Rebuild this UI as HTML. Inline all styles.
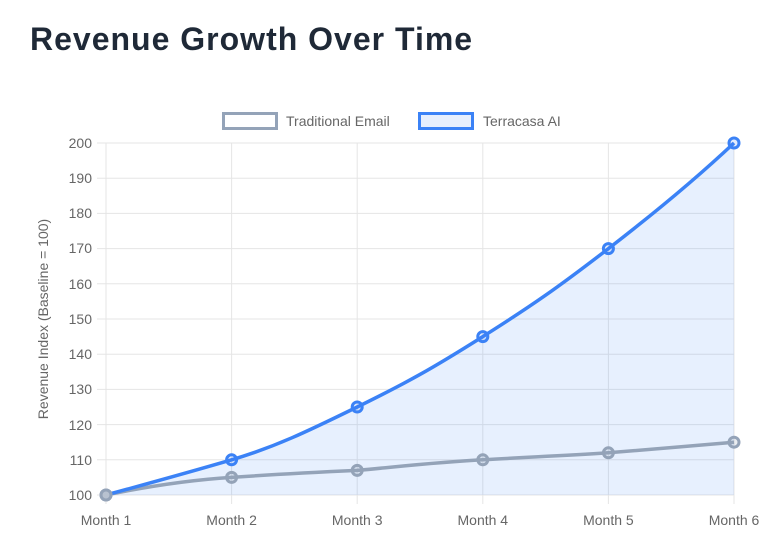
<!DOCTYPE html>
<html><head><style>
body{margin:0;background:#fff;width:771px;height:546px;overflow:hidden}
h1{position:absolute;left:30px;top:21px;margin:0;font:bold 32px "Liberation Sans",sans-serif;color:#1f2937;letter-spacing:1px}
svg{position:absolute;left:0;top:0}
text{font-family:"Liberation Sans",sans-serif;fill:#666;font-size:14px}
</style></head><body>
<h1>Revenue Growth Over Time</h1>
<svg width="771" height="546">
<g stroke="#e5e5e5" stroke-width="1">
<line x1="97" x2="734" y1="143" y2="143"/><line x1="97" x2="734" y1="178.2" y2="178.2"/><line x1="97" x2="734" y1="213.4" y2="213.4"/><line x1="97" x2="734" y1="248.6" y2="248.6"/><line x1="97" x2="734" y1="283.8" y2="283.8"/><line x1="97" x2="734" y1="319" y2="319"/><line x1="97" x2="734" y1="354.2" y2="354.2"/><line x1="97" x2="734" y1="389.4" y2="389.4"/><line x1="97" x2="734" y1="424.6" y2="424.6"/><line x1="97" x2="734" y1="459.8" y2="459.8"/><line x1="97" x2="734" y1="495" y2="495"/>
<line x1="106" x2="106" y1="143" y2="504"/><line x1="231.6" x2="231.6" y1="143" y2="504"/><line x1="357.2" x2="357.2" y1="143" y2="504"/><line x1="482.8" x2="482.8" y1="143" y2="504"/><line x1="608.4" x2="608.4" y1="143" y2="504"/><line x1="734" x2="734" y1="143" y2="504"/>
</g>
<g text-anchor="end">
<text x="92" y="148">200</text><text x="92" y="183">190</text><text x="92" y="218">180</text><text x="92" y="253">170</text><text x="92" y="289">160</text><text x="92" y="324">150</text><text x="92" y="359">140</text><text x="92" y="394">130</text><text x="92" y="430">120</text><text x="92" y="465">110</text><text x="92" y="500">100</text>
</g>
<g text-anchor="middle">
<text x="106" y="525">Month 1</text><text x="231.6" y="525">Month 2</text><text x="357.2" y="525">Month 3</text><text x="482.8" y="525">Month 4</text><text x="608.4" y="525">Month 5</text><text x="734" y="525">Month 6</text>
<text transform="translate(48,319) rotate(-90)">Revenue Index (Baseline = 100)</text>
</g>
<path d="M106,495 C150,483 190,472 231.6,459.8 C275,447 307,431.6 357.2,407 C407.4,382.4 432.6,368.3 482.8,336.6 C533,304.9 558.2,287.3 608.4,248.6 C658.6,209.9 700,175 734,143 L734,495 Z" fill="rgba(59,130,246,0.12)"/>
<path d="M106,495 C150,486 190,480 231.6,477.4 C280,474 310,472.5 357.2,470.4 C405,466 440,462 482.8,459.8 C530,457 560,456 608.4,452.8 C655,449 690,446 734,442.2" fill="none" stroke="#94a3b8" stroke-width="3.5"/>
<path d="M106,495 C150,483 190,472 231.6,459.8 C275,447 307,431.6 357.2,407 C407.4,382.4 432.6,368.3 482.8,336.6 C533,304.9 558.2,287.3 608.4,248.6 C658.6,209.9 700,175 734,143" fill="none" stroke="#3b82f6" stroke-width="3.5"/>
<g fill="rgba(148,163,184,0.2)" stroke="#94a3b8" stroke-width="3">
<circle cx="106" cy="495" r="5"/><circle cx="231.6" cy="477.4" r="5"/><circle cx="357.2" cy="470.4" r="5"/><circle cx="482.8" cy="459.8" r="5"/><circle cx="608.4" cy="452.8" r="5"/><circle cx="734" cy="442.2" r="5"/>
</g>
<g fill="rgba(59,130,246,0.15)" stroke="#3b82f6" stroke-width="3">
<circle cx="231.6" cy="459.8" r="5"/><circle cx="357.2" cy="407" r="5"/><circle cx="482.8" cy="336.6" r="5"/><circle cx="608.4" cy="248.6" r="5"/><circle cx="734" cy="143" r="5"/>
</g>
<circle cx="106" cy="495" r="5" fill="#b8c2d0" stroke="#94a3b8" stroke-width="3"/>
<rect x="223.5" y="113.5" width="53" height="15" fill="#fff" stroke="#94a3b8" stroke-width="3"/>
<text x="286" y="126">Traditional Email</text>
<rect x="419.5" y="113.5" width="53" height="15" fill="#e7effd" stroke="#3b82f6" stroke-width="3"/>
<text x="483" y="126">Terracasa AI</text>
</svg>
</body></html>
